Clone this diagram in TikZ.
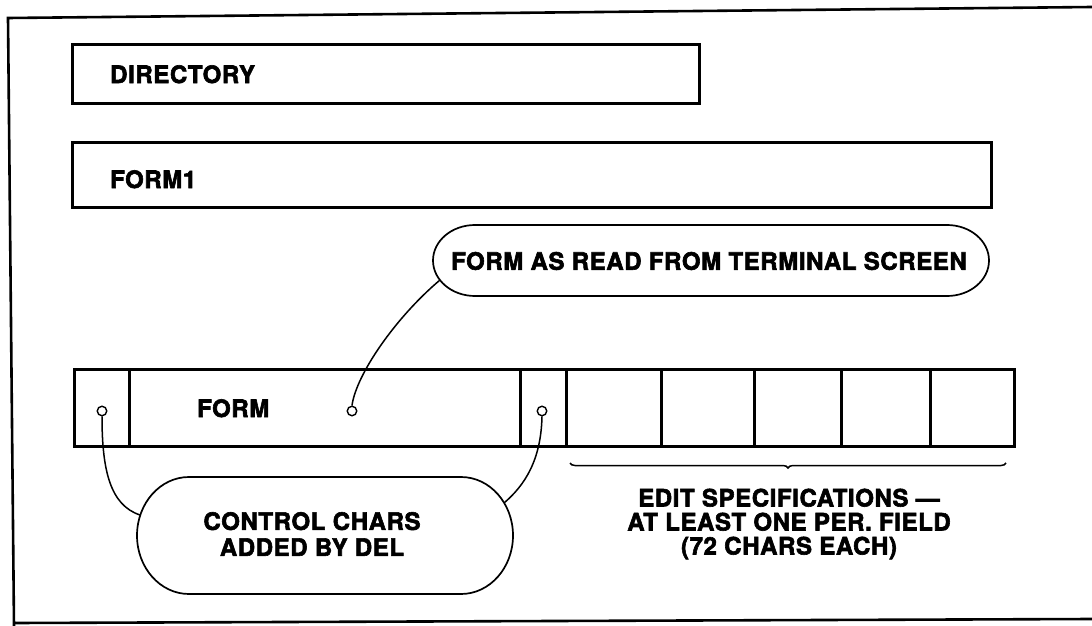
\documentclass[tikz,border=0pt]{standalone}
\usepackage{fontspec}
\setmainfont{TeX Gyre Heros}[LetterSpace=2.5, BoldFeatures={FakeBold=2.5}]
\usetikzlibrary{decorations.pathreplacing}
\begin{document}
\begin{tikzpicture}[x=1pt,y=1pt,
  box/.style={draw, line width=3.2pt, rectangle, inner sep=0pt, anchor=north west},
  cell/.style={draw, line width=3pt, rectangle, inner sep=0pt, anchor=north west, minimum height=77pt},
  lbl/.style={font=\fontsize{24}{24}\selectfont\bfseries, inner sep=0pt},
  twoline/.style={font=\fontsize{24}{26}\selectfont\bfseries, inner sep=0pt, align=center},
  bubble/.style={line width=1.7pt},
  link/.style={line width=1.5pt},
  dot/.style={circle, draw, line width=1.4pt, inner sep=0pt, minimum size=9.5pt, fill=white}]
\useasboundingbox (0,0) rectangle (1092,-626);
% outer frame
\draw[line width=2.6pt] (1092,-7) -- (8,-18) -- (14,-626);
\draw[line width=2.6pt] (14,-623) -- (1092,-619);
% directory and form1 records
\node[box, minimum width=627pt, minimum height=59pt] (dir) at (71,-43) {};
\node[lbl, anchor=base west] (dirt) at (110,-83) {DIRECTORY};
\node[box, minimum width=919pt, minimum height=65pt] (form1) at (71,-141) {};
\node[lbl, anchor=base west] (form1t) at (110,-188) {FORM1};
% callout bubble
\draw[bubble] (475,-225) -- (947,-225) arc[start angle=90, end angle=-90, x radius=42, y radius=35.5]
  -- (475,-296) arc[start angle=270, end angle=90, x radius=42, y radius=35.5] -- cycle;
\node[lbl] (read) at (709,-261) {FORM AS READ FROM TERMINAL SCREEN};
\coordinate (rdin) at (440,-280);
% record row
\node[cell, minimum width=55pt] (ca) at (73,-368) {};
\node[cell, minimum width=391pt] (cb) at (128,-368) {};
\node[cell, minimum width=46pt] (cc) at (519,-368) {};
\node[cell, minimum width=95pt] (e1) at (565,-368) {};
\node[cell, minimum width=93pt] (e2) at (660,-368) {};
\node[cell, minimum width=87pt] (e3) at (753,-368) {};
\node[cell, minimum width=89pt] (e4) at (840,-368) {};
\node[cell, minimum width=84pt] (e5) at (929,-368) {};
\node[lbl, anchor=base west] (formt) at (197,-417) {FORM};
\node[dot] (d1) at (102,-411) {};
\node[dot] (d2) at (352,-411) {};
\node[dot] (d3) at (542,-411) {};
% control chars bubble
\draw[bubble] (189,-477) -- (461,-477) arc[start angle=90, end angle=-90, x radius=52, y radius=58.5]
  -- (189,-594) arc[start angle=270, end angle=90, x radius=52, y radius=58.5] -- cycle;
\node[twoline] (ctrl) at (312,-534) {CONTROL CHARS\\ADDED BY DEL};
\coordinate (cl) at (140,-515);
\coordinate (cr) at (504,-503);
% connectors
\draw[link] (d2.north) .. controls (356,-375) and (395,-318) .. (rdin);
\draw[link] (d1.south) .. controls (102,-470) and (110,-505) .. (cl);
\draw[link] (d3.south) .. controls (541,-460) and (525,-485) .. (cr);
% brace and edit specification text
\coordinate (bl) at (570,-463);
\coordinate (br) at (1006,-463);
\draw[link, decorate, decoration={brace, amplitude=5pt, mirror}] (bl) -- (br);
\node[twoline, font=\fontsize{24}{24}\selectfont\bfseries] (edit) at (789,-524) {EDIT SPECIFICATIONS —\\AT LEAST ONE PER. FIELD\\(72 CHARS EACH)};
\end{tikzpicture}
\end{document}
